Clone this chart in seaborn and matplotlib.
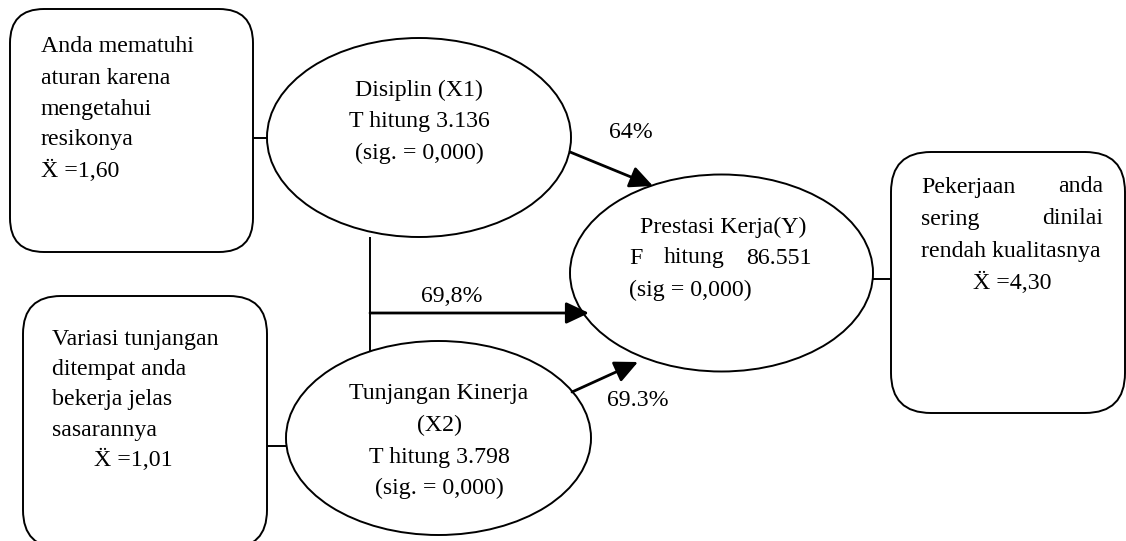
import matplotlib
matplotlib.use("Agg")
import matplotlib.pyplot as plt
import seaborn as sns
from matplotlib.patches import Ellipse, FancyBboxPatch

# indikator (kotak)
box_x1_lines = ["Anda mematuhi", "aturan karena", "mengetahui", "resikonya", "Ẍ =1,60"]
box_x2_lines = ["Variasi tunjangan", "ditempat anda", "bekerja jelas", "sasarannya"]
box_x2_mean = "Ẍ =1,01"
box_y_lines = [["Pekerjaan", "anda"], ["sering", "dinilai"], ["rendah kualitasnya"]]
box_y_mean = "Ẍ =4,30"

# variabel (elips)
node_x1_lines = ["Disiplin (X1)", "T hitung 3.136", "(sig. = 0,000)"]
node_x2_lines = ["Tunjangan Kinerja", "(X2)", "T hitung 3.798", "(sig. = 0,000)"]
node_y_title = "Prestasi Kerja(Y)"
node_y_stat = ["F", "hitung", "86.551"]
node_y_sig = "(sig = 0,000)"

# koefisien jalur
path_labels = ["64%", "69,8%", "69.3%"]

sns.set_style("white")
plt.rcParams['font.family'] = ['Liberation Serif', 'DejaVu Serif']

W, H = 1126, 541
fig = plt.figure(figsize=(W / 100, H / 100), dpi=100)
ax = fig.add_axes([0, 0, 1, 1])
ax.set_xlim(0, W)
ax.set_ylim(H, 0)
ax.axis("off")

font = dict(fontsize=17.2, color="black", va="center")
lw = 1.4


def rbox(x0, y0, x1, y1, r=34):
    ax.add_patch(FancyBboxPatch((x0 + r, y0 + r), x1 - x0 - 2 * r, y1 - y0 - 2 * r,
                                boxstyle="round,pad=%d" % r, fc="white", ec="black",
                                lw=lw, clip_on=False))


def ell(cx, cy, w, h):
    ax.add_patch(Ellipse((cx, cy), w, h, fc="white", ec="black", lw=lw))


def line(xs, ys):
    ax.plot(xs, ys, color="black", lw=lw, solid_capstyle="butt")


def arrow(start, tip):
    ax.annotate("", xy=tip, xytext=start,
                arrowprops=dict(arrowstyle="-|>,head_length=0.7,head_width=0.33",
                                mutation_scale=20, lw=2, color="black",
                                shrinkA=0, shrinkB=0))


fig.canvas.draw()
renderer = fig.canvas.get_renderer()


def justified(words, x0, x1, y):
    texts = [ax.text(x0, y, w, ha="left", **font) for w in words]
    if len(texts) == 1:
        return
    widths = [t.get_window_extent(renderer).width for t in texts]
    gap = (x1 - x0 - sum(widths)) / (len(texts) - 1)
    x = x0
    for t, w in zip(texts, widths):
        t.set_x(x)
        x += w + gap


# garis penghubung
line([253, 268], [138, 138])
line([267, 287], [446, 446])
line([873, 891], [279, 279])
line([370, 370], [237, 352])

# kotak indikator
rbox(10, 9, 253, 252)
for i, s in enumerate(box_x1_lines):
    ax.text(41, 47 + i * 31, s, ha="left", **font)

rbox(23, 296, 267, 548, r=38)
for i, s in enumerate(box_x2_lines):
    ax.text(52, 339 + i * 30.5, s, ha="left", **font)
ax.text(133, 460, box_x2_mean, ha="center", **font)

rbox(891, 152, 1125, 413, r=40)
for i, words in enumerate(box_y_lines):
    justified(words, 921, 1103, 187 + i * 32)
ax.text(1012, 283, box_y_mean, ha="center", **font)

# elips variabel
ell(419, 137.5, 304, 199)
for i, s in enumerate(node_x1_lines):
    ax.text(419, 90 + i * 31.5, s, ha="center", **font)

ell(438.5, 438, 305, 194)
for i, s in enumerate(node_x2_lines):
    ax.text(439, 394 + i * 31.5, s, ha="center", **font)

ell(721.5, 273, 303, 197)
ax.text(723, 227, node_y_title, ha="center", **font)
justified(node_y_stat, 629, 812, 258)
ax.text(629, 290, node_y_sig, ha="left", **font)

# panah jalur
arrow((570, 152), (653, 186))
arrow((370, 313), (589, 313))
arrow((572, 392), (638, 362))
ax.text(631, 133, path_labels[0], ha="center", **font)
ax.text(452, 297, path_labels[1], ha="center", **font)
ax.text(638, 400, path_labels[2], ha="center", **font)

fig.savefig("out.png", dpi=100)
